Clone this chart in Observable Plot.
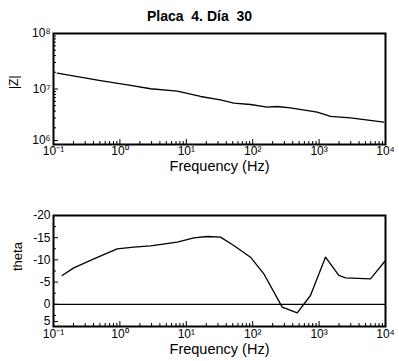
<!DOCTYPE html>
<html><head><meta charset="utf-8">
<script src="https://cdn.jsdelivr.net/npm/d3@7"></script>
<script src="https://cdn.jsdelivr.net/npm/@observablehq/plot@0.6"></script>
<style>
body{margin:0;background:#fff;font-family:"Liberation Sans",Arial,sans-serif;}
#wrap{position:relative;width:399px;height:361px;overflow:hidden;}
#title{position:absolute;top:8px;left:0;width:399px;text-align:center;font-weight:bold;font-size:14px;line-height:16px;white-space:pre;color:#000;}
#p1{position:absolute;top:0;left:0;}
#p2{position:absolute;top:180px;left:0;}
</style></head>
<body>
<div id="wrap">
  <div id="p1"></div>
  <div id="p2"></div>
  <div id="title"></div>
</div>
<script>
// |Z| vs frequency
const freqZ = [0.114, 0.511, 1.45, 2.89, 7.29, 16.4, 32.7, 51.9, 92.7, 165, 234, 371, 935, 1486, 2972, 9418];
const magZ  = [1.93e7, 1.42e7, 1.16e7, 1.01e7, 9.14e6, 7.33e6, 6.38e6, 5.56e6, 5.26e6, 4.70e6, 4.84e6, 4.58e6, 3.82e6, 3.20e6, 3.03e6, 2.52e6];
// theta vs frequency
const freqT = [0.135, 0.202, 0.405, 0.910, 1.62, 2.89, 7.29, 13.0, 20.6, 32.7, 51.9, 92.7, 147, 278, 468, 741, 1247, 1982, 2500, 5943, 10000];
const theta = [-6.49, -8.21, -10.24, -12.49, -12.86, -13.17, -13.99, -14.97, -15.27, -15.12, -13.24, -10.61, -6.87, 0.64, 1.92, -1.98, -10.61, -6.49, -5.97, -5.74, -9.86];
// tick labels
const xMajor = [0.1, 1, 10, 100, 1000, 10000];
const zMajor = [1e7, 1e8];
const zLast = [1e6];
const thetaTicks = [-20, -15, -10, -5, 0];
const thetaLast = [5];
const thetaMinor = [-17.5, -12.5, -7.5, -2.5, 2.5];
const title = "Placa  4. Día  30";
const xLabel = "Frequency (Hz)";

document.getElementById("title").textContent = title;

const sup = {"-":"\u207B","0":"\u2070","1":"\u00B9","2":"\u00B2","3":"\u00B3","4":"\u2074","5":"\u2075","6":"\u2076","7":"\u2077","8":"\u2078","9":"\u2079"};
const fmt = d => "10" + String(Math.round(Math.log10(d))).split("").map(c => sup[c]).join("");
const minorLog = (lo, hi) => { const out = []; for (let e = lo; e < hi; e++) for (let m = 2; m <= 9; m++) out.push(m * Math.pow(10, e)); return out; };
const xMinor = minorLog(-1, 4);
const zMinor = minorLog(6, 8);

const zData = freqZ.map((f, i) => ({f, z: magZ[i]}));
const tData = freqT.map((f, i) => ({f, t: theta[i]}));

const common = {
  width: 399, marginLeft: 53, marginRight: 14,
  style: {fontFamily: '"Liberation Sans", Arial, sans-serif', fontSize: "12px", color: "#000", background: "transparent", overflow: "visible"},
};

const p1 = Plot.plot({
  ...common, height: 180, marginTop: 33, marginBottom: 36,
  x: {type: "log", domain: [0.1, 1e4]},
  y: {type: "log", domain: [1e6, 1e8]},
  marks: [
    Plot.axisX({ticks: xMinor, tickSize: -3, tickFormat: () => "", label: null}),
    Plot.axisX({ticks: xMajor, tickSize: -5, tickPadding: 7, tickFormat: fmt, label: null, fontSize: 12}),
    Plot.axisY({ticks: zMinor, tickSize: -3, tickFormat: () => "", label: null}),
    Plot.axisY({ticks: zMajor, tickSize: -5, tickPadding: 8, tickFormat: fmt, label: null, fontSize: 12}),
    Plot.axisY({ticks: zLast, tickSize: -5, tickPadding: 8, tickFormat: fmt, label: null, fontSize: 12, dy: -4}),
    Plot.frame({stroke: "#000", strokeWidth: 2}),
    Plot.line(zData, {x: "f", y: "z", stroke: "#000", strokeWidth: 1.3}),
    Plot.text([xLabel], {frameAnchor: "bottom", dy: 22, fontSize: 14.5, lineAnchor: "middle"}),
    Plot.text(["|Z|"], {frameAnchor: "left", dx: -39, rotate: -90, fontSize: 12})
  ]
});
document.getElementById("p1").append(p1);

const p2 = Plot.plot({
  ...common, height: 181, marginTop: 35, marginBottom: 35,
  x: {type: "log", domain: [0.1, 1e4]},
  y: {domain: [5, -20]},
  marks: [
    Plot.axisX({ticks: xMinor, tickSize: -3, tickFormat: () => "", label: null}),
    Plot.axisX({ticks: xMajor, tickSize: -5, tickPadding: 8, tickFormat: fmt, label: null, fontSize: 12}),
    Plot.axisY({ticks: thetaMinor, tickSize: -3, tickFormat: () => "", label: null}),
    Plot.axisY({ticks: thetaTicks, tickSize: -5, tickPadding: 8, tickFormat: d => String(d), label: null, fontSize: 12}),
    Plot.axisY({ticks: thetaLast, tickSize: -5, tickPadding: 8, tickFormat: d => String(d), label: null, fontSize: 12, dy: -5}),
    Plot.ruleY([0], {stroke: "#000", strokeWidth: 1.3}),
    Plot.frame({stroke: "#000", strokeWidth: 2}),
    Plot.line(tData, {x: "f", y: "t", stroke: "#000", strokeWidth: 1.3}),
    Plot.text([xLabel], {frameAnchor: "bottom", dy: 23, fontSize: 14.5, lineAnchor: "middle"}),
    Plot.text(["theta"], {frameAnchor: "left", dx: -36, rotate: -90, fontSize: 13})
  ]
});
document.getElementById("p2").append(p2);
</script>
</body></html>
